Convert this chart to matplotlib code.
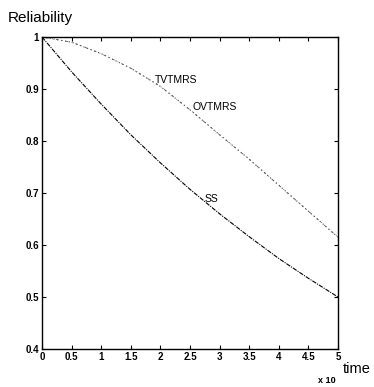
import matplotlib
matplotlib.use("Agg")
import matplotlib.pyplot as plt

plt.rcParams['font.family'] = ['Liberation Sans', 'DejaVu Sans']

time = [0, 0.5, 1, 1.5, 2, 2.5, 3, 3.5, 4, 4.5, 5]
ss = [1.0, 0.933, 0.871, 0.812, 0.758, 0.707, 0.660, 0.616, 0.574, 0.536, 0.500]
tvtmrs = [1.0, 0.990, 0.968, 0.940, 0.905, 0.860, 0.812, 0.765, 0.715, 0.665, 0.615]
ovtmrs = [1.0, 0.990, 0.968, 0.940, 0.905, 0.860, 0.812, 0.765, 0.715, 0.665, 0.615]
xticks = [0, 0.5, 1, 1.5, 2, 2.5, 3, 3.5, 4, 4.5, 5]
xticklabels = ['0', '0.5', '1', '1.5', '2', '2.5', '3', '3.5', '4', '4.5', '5']
yticks = [0.4, 0.5, 0.6, 0.7, 0.8, 0.9, 1.0]
yticklabels = ['0.4', '0.5', '0.6', '0.7', '0.8', '0.9', '1']

fig = plt.figure(figsize=(3.74, 3.87), dpi=100)
ax = fig.add_axes([0.1123, 0.0982, 0.7914, 0.8062])

ax.plot(time, ss, color='black', linestyle=(0, (4, 1, 1, 1)), linewidth=0.8)
ax.plot(time, tvtmrs, color='#444444', linestyle=(0, (1, 2.5)), linewidth=0.8)
ax.plot(time, ovtmrs, color='#555555', linestyle=(0, (1, 4, 3, 4)), linewidth=0.6)

ax.text(1.91, 0.917, 'TVTMRS', fontsize=7.5, va='center', ha='left')
ax.text(2.55, 0.866, 'OVTMRS', fontsize=7.5, va='center', ha='left')
ax.text(2.75, 0.688, 'SS', fontsize=7.5, va='center', ha='left')

ax.set_xlim(0, 5)
ax.set_ylim(0.4, 1.0)
ax.set_xticks(xticks)
ax.set_xticklabels(xticklabels, fontsize=7, fontweight='bold')
ax.set_yticks(yticks)
ax.set_yticklabels(yticklabels, fontsize=7, fontweight='bold')
ax.tick_params(direction='in', length=3, width=0.8, top=True, right=True, pad=2)
for s in ax.spines.values():
    s.set_linewidth(1.0)

fig.text(0.021, 0.953, 'Reliability', fontsize=11, ha='left', va='center')
fig.text(0.917, 0.047, 'time', fontsize=10.5, ha='left', va='center')
fig.text(0.85, 0.005, 'x 10', fontsize=6.5, fontweight='bold', ha='left', va='bottom')

fig.savefig('out.png', dpi=100)
